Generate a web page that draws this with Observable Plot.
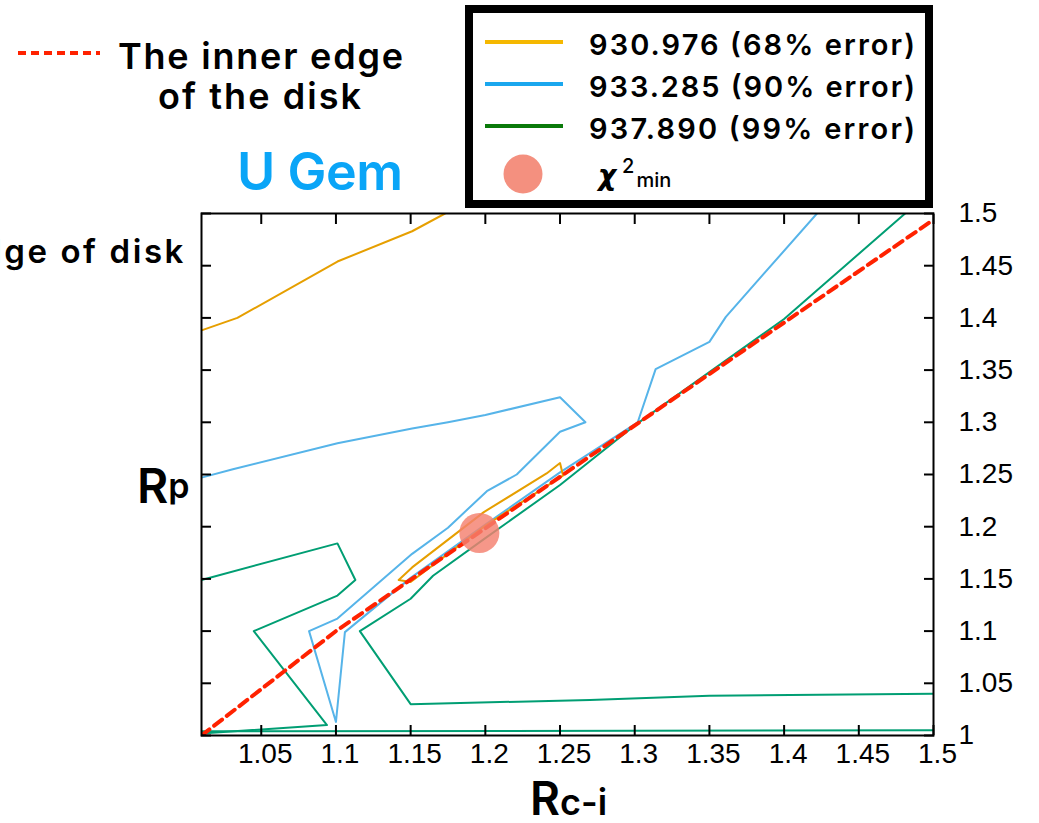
<!DOCTYPE html>
<html><head><meta charset="utf-8">
<script src="https://cdn.jsdelivr.net/npm/d3@7"></script>
<script src="https://cdn.jsdelivr.net/npm/@observablehq/plot@0.6"></script>
<style>
html,body{margin:0;padding:0;background:#fff;}
#wrap{position:relative;width:1039px;height:823px;overflow:hidden;background:#fff;}
#wrap svg{position:absolute;left:0;top:0;}
</style></head><body><div id="wrap"></div>
<script>
// ---- tick values ----
const xTicks = [1.05, 1.1, 1.15, 1.2, 1.25, 1.3, 1.35, 1.4, 1.45, 1.5];
const yTicks = [1, 1.05, 1.1, 1.15, 1.2, 1.25, 1.3, 1.35, 1.4, 1.45, 1.5];

// ---- 68% contour (930.976) ----
const orangeTopX = [1.01, 1.034, 1.101, 1.151, 1.173];
const orangeTopY = [1.388, 1.400, 1.454, 1.483, 1.500];
const orangeLoopX = [1.142, 1.151, 1.199, 1.241, 1.250, 1.252, 1.200, 1.150, 1.142];
const orangeLoopY = [1.149, 1.161, 1.214, 1.251, 1.261, 1.249, 1.201, 1.147, 1.149];

// ---- 90% contour (933.285) ----
const blueX = [1.01, 1.031, 1.101, 1.151, 1.175, 1.200, 1.250, 1.267, 1.250, 1.221, 1.201, 1.175, 1.151, 1.101, 1.082, 1.100, 1.106, 1.150, 1.200, 1.250, 1.302, 1.314, 1.350, 1.361, 1.422];
const blueY = [1.247, 1.255, 1.280, 1.294, 1.300, 1.307, 1.324, 1.300, 1.291, 1.250, 1.234, 1.199, 1.174, 1.112, 1.100, 1.013, 1.099, 1.151, 1.202, 1.252, 1.300, 1.351, 1.377, 1.401, 1.500];

// ---- 99% contour (937.890) ----
const greenLeftX = [1.01, 1.101, 1.113, 1.101, 1.045, 1.094, 1.01];
const greenLeftY = [1.149, 1.184, 1.149, 1.134, 1.100, 1.010, 1.002];
const greenBottomX = [1.01, 1.5];
const greenBottomY = [1.004, 1.005];
const greenRightX = [1.5, 1.35, 1.27, 1.150, 1.116, 1.150, 1.165, 1.200, 1.250, 1.300, 1.350, 1.400, 1.481];
const greenRightY = [1.040, 1.038, 1.034, 1.030, 1.100, 1.131, 1.153, 1.189, 1.240, 1.297, 1.348, 1.399, 1.500];

// ---- inner edge of the disk ----
const edgeX = [1.01, 1.1, 1.5];
const edgeY = [1.0, 1.1, 1.494];

// ---- chi^2 min ----
const chiMinX = [1.196];
const chiMinY = [1.194];

// ---- legend ----
const legendLabels = ["930.976 (68% error)", "933.285 (90% error)", "937.890 (99% error)"];
const legendColors = ["#F5B800", "#1AA7EE", "#0A7A0A"];
const lineColors = ["#E69F00", "#56B4E9", "#009E73"];

const pts = (xs, ys) => xs.map((x, i) => ({x, y: ys[i]}));
const fmt = d => String(+d.toFixed(2));

const lineOpts = (c) => ({x: "x", y: "y", stroke: c, strokeWidth: 2, clip: true, curve: "linear"});

const plot = Plot.plot({
  width: 1039, height: 823,
  marginLeft: 201, marginRight: 106, marginTop: 213, marginBottom: 88,
  x: {domain: [1.01, 1.5]},
  y: {domain: [1.0, 1.5]},
  style: {fontFamily: "'Liberation Sans', Arial, sans-serif", background: "white", color: "black", overflow: "visible"},
  marks: [
    Plot.line(pts(greenLeftX, greenLeftY), lineOpts(lineColors[2])),
    Plot.line(pts(greenBottomX, greenBottomY), lineOpts(lineColors[2])),
    Plot.line(pts(greenRightX, greenRightY), lineOpts(lineColors[2])),
    Plot.line(pts(blueX, blueY), lineOpts(lineColors[1])),
    Plot.line(pts(orangeTopX, orangeTopY), lineOpts(lineColors[0])),
    Plot.line(pts(orangeLoopX, orangeLoopY), lineOpts(lineColors[0])),
    Plot.line(pts(edgeX, edgeY), {x: "x", y: "y", stroke: "#FF2200", strokeWidth: 4, strokeDasharray: "10,6", clip: true}),
    Plot.dot(pts(chiMinX, chiMinY), {x: "x", y: "y", r: 20, fill: "#F4806F", fillOpacity: 0.82, stroke: "none"}),
    Plot.axisX(xTicks, {anchor: "bottom", tickSize: 0, tickPadding: 8, tickFormat: fmt, fontSize: 28, dx: 4, label: null}),
    Plot.axisX(xTicks, {anchor: "bottom", tickSize: -10, strokeWidth: 2, tickFormat: () => "", label: null}),
    Plot.axisX(xTicks, {anchor: "top", tickSize: -10, strokeWidth: 2, tickFormat: () => "", label: null}),
    Plot.axisY(yTicks, {anchor: "right", tickSize: 0, tickPadding: 25, tickFormat: fmt, fontSize: 28, label: null}),
    Plot.axisY(yTicks, {anchor: "right", tickSize: -10, strokeWidth: 2, tickFormat: () => "", label: null}),
    Plot.axisY(yTicks, {anchor: "left", tickSize: -10, strokeWidth: 2, tickFormat: () => "", label: null}),
    Plot.frame({stroke: "black", strokeWidth: 2})
  ]
});
document.getElementById("wrap").appendChild(plot);

// ---- overlay: annotations and legend ----
const sans = "Inter, 'Noto Sans', 'Liberation Sans', sans-serif";
const W = 600;
const ov = d3.select("#wrap").append("svg")
  .attr("width", 1039).attr("height", 823)
  .style("pointer-events", "none")
  .style("font-family", sans);

// inner edge annotation
ov.append("line").attr("x1", 18).attr("x2", 100).attr("y1", 53).attr("y2", 53)
  .attr("stroke", "#FF2200").attr("stroke-width", 4).attr("stroke-dasharray", "8,5");
ov.append("text").attr("x", 118).attr("y", 69).attr("font-size", 36).attr("font-weight", W)
  .attr("textLength", 285).attr("lengthAdjust", "spacing").text("The inner edge");
ov.append("text").attr("x", 158).attr("y", 109).attr("font-size", 36).attr("font-weight", W)
  .attr("textLength", 203).attr("lengthAdjust", "spacing").text("of the disk");
ov.append("text").attr("x", 237).attr("y", 190).attr("font-size", 52).attr("font-weight", W)
  .attr("fill", "#0AA5F7").attr("textLength", 166).attr("lengthAdjust", "spacing").text("U Gem");
ov.append("text").attr("x", 186).attr("y", 263).attr("font-size", 33).attr("font-weight", W)
  .attr("text-anchor", "end").attr("letter-spacing", 2.6).text("edge of disk");

// axis titles
const yt = ov.append("text").attr("x", 137).attr("y", 503).attr("font-weight", W);
yt.append("tspan").attr("font-size", 48).text("R");
yt.append("tspan").attr("font-size", 34).attr("dy", -5).text("p");
const xt = ov.append("text").attr("x", 530).attr("y", 815).attr("font-weight", W);
xt.append("tspan").attr("font-size", 46).text("R");
xt.append("tspan").attr("font-size", 36).text("c-i");

// legend box
ov.append("rect").attr("x", 469).attr("y", 9).attr("width", 460).attr("height", 195)
  .attr("fill", "white").attr("stroke", "black").attr("stroke-width", 8);
legendLabels.forEach((lab, i) => {
  const y = 42 + i * 42;
  ov.append("line").attr("x1", 485).attr("x2", 563).attr("y1", y).attr("y2", y)
    .attr("stroke", legendColors[i]).attr("stroke-width", 4);
  ov.append("text").attr("x", 589).attr("y", y + 13).attr("font-size", 29).attr("font-weight", W)
    .attr("textLength", 326).attr("lengthAdjust", "spacing").text(lab);
});
ov.append("circle").attr("cx", 523).attr("cy", 174).attr("r", 19.5).attr("fill", "#F4907F");
const chi = ov.append("text").attr("x", 598).attr("y", 185);
chi.append("tspan").attr("font-family", "'DejaVu Sans', sans-serif").attr("font-style", "italic")
  .attr("font-weight", "bold").attr("font-size", 28).text("χ");
chi.append("tspan").attr("font-size", 20).attr("dx", 6).attr("dy", -18 + 6).attr("font-weight", 500).text("2");
chi.append("tspan").attr("font-size", 20).attr("dx", 2).attr("dy", 14).attr("font-weight", 500).text("min");
</script>
</body></html>
